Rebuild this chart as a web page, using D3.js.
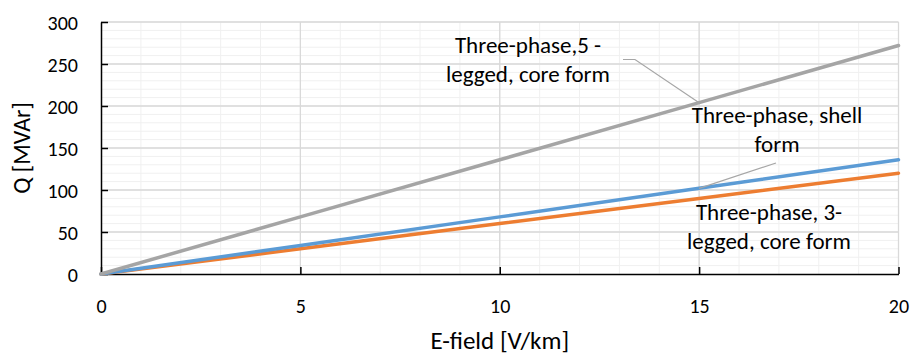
<!DOCTYPE html>
<html>
<head>
<meta charset="utf-8">
<script src="https://cdn.jsdelivr.net/npm/d3@7"></script>
<style>
  body { margin: 0; background: #fff; }
  svg { display: block; font-family: Carlito, Calibri, Lato, sans-serif; }
</style>
</head>
<body>
<svg id="chart"></svg>
<script>
// values
const efield = [0, 5, 10, 15, 20]
const fiveLegged = [0, 68, 136, 204, 272]
const shellForm = [0, 34, 68, 102, 136]
const threeLegged = [0, 30, 60, 90, 120]
const xTicks = [0, 5, 10, 15, 20]
const yTicks = [0, 50, 100, 150, 200, 250, 300]

const FONT = 'Carlito, Calibri, Lato, sans-serif'
const width = 912
const height = 357
const margin = { top: 22, right: 13.5, bottom: 83, left: 101 }
const aWidth = width - margin.left - margin.right
const aHeight = height - margin.top - margin.bottom

const svg = d3.select('#chart').attr('width', width).attr('height', height)

const x = d3.scaleLinear().domain([0, 20]).range([0, aWidth])
const y = d3.scaleLinear().domain([0, 300]).range([aHeight, 0])

const g = svg.append('g')
  .attr('transform', 'translate(' + margin.left + ',' + margin.top + ')')

// minor grid
g.append('g')
  .selectAll('line').data(d3.range(1, 21)).enter()
  .append('line')
    .attr('x1', d => x(d)).attr('x2', d => x(d))
    .attr('y1', 0).attr('y2', aHeight)
    .attr('stroke', '#f0f0f0').attr('stroke-width', 1)
g.append('g')
  .selectAll('line').data(d3.range(10, 301, 10)).enter()
  .append('line')
    .attr('x1', 0).attr('x2', aWidth)
    .attr('y1', d => y(d)).attr('y2', d => y(d))
    .attr('stroke', '#f0f0f0').attr('stroke-width', 1)

// major grid
g.append('g')
  .selectAll('line').data(xTicks.slice(1)).enter()
  .append('line')
    .attr('x1', d => x(d)).attr('x2', d => x(d))
    .attr('y1', 0).attr('y2', aHeight)
    .attr('stroke', '#d9d9d9').attr('stroke-width', 1.3)
g.append('g')
  .selectAll('line').data(yTicks.slice(1)).enter()
  .append('line')
    .attr('x1', 0).attr('x2', aWidth)
    .attr('y1', d => y(d)).attr('y2', d => y(d))
    .attr('stroke', '#d9d9d9').attr('stroke-width', 1.3)

// axes
const xAxis = g.append('g')
  .attr('transform', 'translate(0,' + aHeight + ')')
  .call(d3.axisBottom(x).tickValues(xTicks).tickSizeInner(-7).tickSizeOuter(0))
const yAxis = g.append('g')
  .call(d3.axisLeft(y).tickValues(yTicks).tickSizeInner(-7).tickSizeOuter(0))

;[xAxis, yAxis].forEach(a => {
  a.select('.domain').attr('stroke', '#000').attr('stroke-width', 1.5)
  a.selectAll('.tick line').attr('stroke', '#000').attr('stroke-width', 1.5)
  a.selectAll('.tick text').attr('font-size', 20).attr('fill', '#000')
    .style('font-family', FONT)
})
xAxis.selectAll('.tick text').attr('y', 39).attr('dy', 0)
yAxis.selectAll('.tick text').attr('x', -23).attr('dy', '0.35em')

// series
const series = [
  { values: fiveLegged, color: '#a5a5a5' },
  { values: shellForm, color: '#5b9bd5' },
  { values: threeLegged, color: '#ed7d31' }
]
const line = d3.line().x((d, i) => x(efield[i])).y(d => y(d))

g.selectAll('.series').data(series.slice().reverse()).enter()
  .append('path')
    .attr('d', d => line(d.values))
    .attr('fill', 'none')
    .attr('stroke', d => d.color)
    .attr('stroke-width', 3.5)
    .attr('stroke-linecap', 'round')

// leader lines
const leaders = g.append('g').attr('stroke', '#a6a6a6').attr('stroke-width', 1.2).attr('fill', 'none')
leaders.append('path')
  .attr('d', 'M' + (623 - margin.left) + ',' + (59.5 - margin.top) + 'H' + (635 - margin.left) +
    'L' + x(efield[3]) + ',' + y(fiveLegged[3]))
leaders.append('path')
  .attr('d', 'M' + (776 - margin.left) + ',' + (163 - margin.top) +
    'L' + x(efield[3]) + ',' + y(shellForm[3]))

// data labels
const labels = [
  { lines: ['Three-phase,5 -', 'legged, core form'], cx: 528, base: 53 },
  { lines: ['Three-phase, shell', 'form'], cx: 777, base: 123 },
  { lines: ['Three-phase, 3-', 'legged, core form'], cx: 769, base: 220 }
]
labels.forEach(l => {
  const t = svg.append('text')
    .attr('text-anchor', 'middle')
    .attr('font-size', 23)
    .attr('fill', '#000')
  l.lines.forEach((s, i) => {
    t.append('tspan').attr('x', l.cx).attr('y', l.base + i * 29).text(s)
  })
})

// axis titles
svg.append('text')
  .attr('x', margin.left + aWidth / 2).attr('y', 349)
  .attr('text-anchor', 'middle').attr('font-size', 25).attr('fill', '#000')
  .text('E-field [V/km]')
svg.append('text')
  .attr('transform', 'translate(30,' + (margin.top + aHeight / 2) + ') rotate(-90)')
  .attr('text-anchor', 'middle').attr('font-size', 24).attr('fill', '#000')
  .text('Q [MVAr]')
</script>
</body>
</html>
